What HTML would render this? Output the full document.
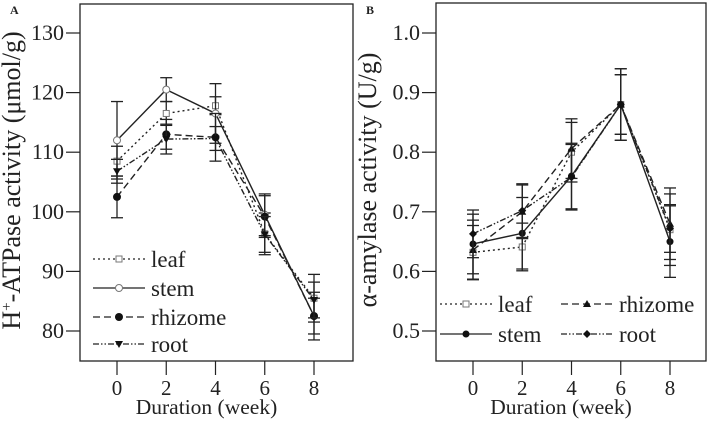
<!DOCTYPE html>
<html><head><meta charset="utf-8"><style>
html,body{margin:0;padding:0;background:#fff;}
svg text{font-family:"Liberation Serif",serif;fill:#222;}
</style></head><body>
<svg id="chart" width="708" height="421" viewBox="0 0 708 421" xmlns="http://www.w3.org/2000/svg"></svg>
<script>
const weeks=[0,2,4,6,8];
const seriesNames=["leaf","stem","rhizome","root"];
const aLeaf=[108.5,116.5,117.8,96.3,85.5];
const aStem=[112,120.5,116.5,99.5,82.5];
const aRhizome=[102.5,113,112.5,99.2,82.5];
const aRoot=[106.8,112.2,112.3,96.2,85.2];
const aLeafErr=[2.5,2,1.5,3.5,4];
const aStemErr=[6.5,2,5,3.5,3];
const aRhizomeErr=[3.5,2.5,4,3.5,4];
const aRootErr=[2,2.5,2,3,3];
const aTicks=[80,90,100,110,120,130];
const bLeaf=[0.632,0.641,0.80,0.88,0.67];
const bStem=[0.646,0.664,0.76,0.88,0.65];
const bRhizome=[0.636,0.70,0.806,0.88,0.68];
const bRoot=[0.663,0.702,0.758,0.88,0.672];
const bLeafErr=[0.045,0.04,0.05,0.06,0.06];
const bStemErr=[0.05,0.06,0.055,0.06,0.06];
const bRhizomeErr=[0.05,0.045,0.05,0.05,0.06];
const bRootErr=[0.04,0.045,0.055,0.05,0.04];
const bTicks=[0.5,0.6,0.7,0.8,0.9,1.0];

const NS="http://www.w3.org/2000/svg";
const svg=document.getElementById('chart');
function mk(tag,attrs,parent){const e=document.createElementNS(NS,tag);for(const k in attrs)e.setAttribute(k,attrs[k]);(parent||svg).appendChild(e);return e;}
const dashes={leaf:"2,3",stem:"",rhizome:"7,4",root:"6,2,1.5,2,1.5,2"};

function panel(p){
  const g=mk('g',{});
  
  
  const xs=w=>p.x0+(w-0)/8*(p.x8-p.x0);
  const ys=v=>p.yb+(v-p.vb)/(p.vt-p.vb)*(p.yt-p.yb);
  const box=mk('rect',{x:p.bx,y:p.by,width:p.bw,height:p.bh,fill:'none',stroke:'#222','stroke-width':1.3},g);
  
  
  const lab=mk('text',{x:p.bx-70,y:14,'font-family':'Liberation Sans,sans-serif','font-weight':'bold','font-size':12},g);
  lab.textContent=p.letter;
  
  
  p.ticks.forEach(t=>{
    const y=ys(t);
    mk('line',{x1:p.bx-14,x2:p.bx,y1:y,y2:y,stroke:'#222','stroke-width':1.2},g);
    const tx=mk('text',{x:p.bx-16,y:y+7,'text-anchor':'end','font-size':22},g);
    tx.textContent=p.fmt(t);
    
    
  });
  weeks.forEach(w=>{
    const x=xs(w);
    mk('line',{x1:x,x2:x,y1:p.by+p.bh,y2:p.by+p.bh+14,stroke:'#222','stroke-width':1.2},g);
    const tx=mk('text',{x:x,y:395,'text-anchor':'middle','font-size':21},g);
    tx.textContent=w;
    
    
  });
  const xt=mk('text',{x:p.bx+p.bw/2-10,y:414,'text-anchor':'middle','font-size':21.5},g);
  xt.textContent='Duration (week)';
  
  
  const yt=mk('text',{x:0,y:0,'text-anchor':'middle','font-size':26,transform:`translate(${p.bx-60},${p.by+p.bh/2-2}) rotate(-90)`},g);
  yt.innerHTML=p.ytitle;
  
  
  p.series.forEach((s,si)=>{
    const sg=mk('g',{},g);
    
    
    s.vals.forEach((v,i)=>{
      const x=xs(weeks[i]),y1=ys(v-s.err[i]),y2=ys(v+s.err[i]);
      mk('line',{x1:x,x2:x,y1:y1,y2:y2,stroke:'#222','stroke-width':1.3},sg);
      mk('line',{x1:x-6,x2:x+6,y1:y1,y2:y1,stroke:'#222','stroke-width':1.3},sg);
      mk('line',{x1:x-6,x2:x+6,y1:y2,y2:y2,stroke:'#222','stroke-width':1.3},sg);
    });
    const pts=s.vals.map((v,i)=>xs(weeks[i])+','+ys(v)).join(' ');
    const pl=mk('polyline',{points:pts,fill:'none',stroke:'#222','stroke-width':1.4,'stroke-dasharray':dashes[s.name]},sg);
    
    
    s.vals.forEach((v,i)=>{
      const m=marker(s.marker,xs(weeks[i]),ys(v),sg);
      
      
    });
  });
  p.legend.forEach(L=>{
    const lg=mk('g',{},g);
    
    
    mk('line',{x1:L.x,x2:L.x+52,y1:L.y,y2:L.y,stroke:'#222','stroke-width':1.3,'stroke-dasharray':dashes[L.name]},lg);
    marker(L.marker,L.x+26,L.y,lg);
    const t=mk('text',{x:L.x+58,y:L.y+8,'font-size':23},lg);
    t.textContent=L.name;
  });
}
function marker(type,x,y,parent){
  if(type==='osq')return mk('rect',{x:x-3,y:y-3,width:6,height:6,fill:'#fff',stroke:'#777','stroke-width':1},parent);
  if(type==='ocirc')return mk('circle',{cx:x,cy:y,r:3.5,fill:'#fff',stroke:'#777','stroke-width':1},parent);
  if(type==='dot')return mk('circle',{cx:x,cy:y,r:4,fill:'#111'},parent);
  if(type==='sdot')return mk('circle',{cx:x,cy:y,r:3.5,fill:'#111'},parent);
  if(type==='tri')return mk('polygon',{points:`${x-4},${y+3} ${x+4},${y+3} ${x},${y-4}`,fill:'#111'},parent);
  if(type==='dtri')return mk('polygon',{points:`${x-4},${y-3} ${x+4},${y-3} ${x},${y+4}`,fill:'#111'},parent);
  if(type==='dia')return mk('polygon',{points:`${x-4},${y} ${x},${y-4} ${x+4},${y} ${x},${y+4}`,fill:'#111'},parent);
}
panel({id:'atpase',letter:'A',bx:80,by:4,bw:273,bh:357,x0:117,x8:314,yb:331,yt:33,vb:80,vt:130,ticks:aTicks,fmt:t=>String(t),
  ytitle:'H<tspan dy="-9" font-size="15">+</tspan><tspan dy="9">-ATPase activity (μmol/g)</tspan>',
  series:[{name:'leaf',vals:aLeaf,err:aLeafErr,marker:'osq'},{name:'stem',vals:aStem,err:aStemErr,marker:'ocirc'},{name:'rhizome',vals:aRhizome,err:aRhizomeErr,marker:'dot'},{name:'root',vals:aRoot,err:aRootErr,marker:'dtri'}],
  legend:[{name:'leaf',x:93,y:259,marker:'osq'},{name:'stem',x:93,y:288,marker:'ocirc'},{name:'rhizome',x:93,y:317,marker:'dot'},{name:'root',x:93,y:344,marker:'dtri'}]});
panel({id:'amylase',letter:'B',bx:436,by:3,bw:270,bh:358,x0:473,x8:670,yb:331,yt:33,vb:0.5,vt:1.0,ticks:bTicks,fmt:t=>t.toFixed(1),
  ytitle:'α-amylase activity (U/g)',
  series:[{name:'leaf',vals:bLeaf,err:bLeafErr,marker:'osq'},{name:'stem',vals:bStem,err:bStemErr,marker:'sdot'},{name:'rhizome',vals:bRhizome,err:bRhizomeErr,marker:'tri'},{name:'root',vals:bRoot,err:bRootErr,marker:'dia'}],
  legend:[{name:'leaf',x:440,y:304,marker:'osq'},{name:'stem',x:440,y:334,marker:'sdot'},{name:'rhizome',x:561,y:304,marker:'tri'},{name:'root',x:561,y:334,marker:'dia'}]});
</script>
</body></html>
